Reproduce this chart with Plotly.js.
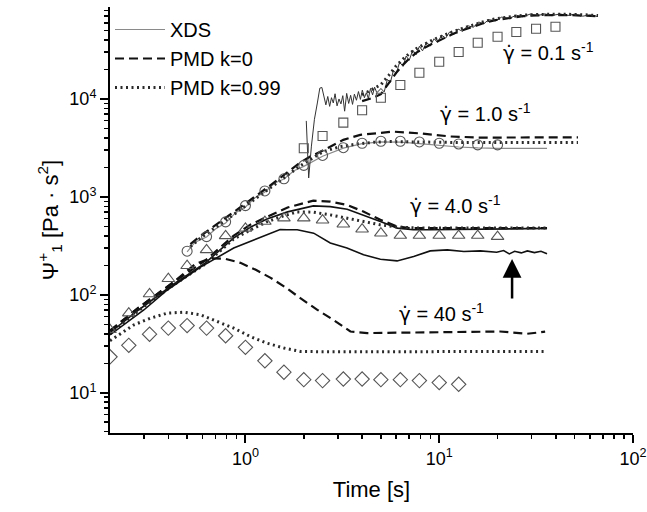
<!DOCTYPE html>
<html><head><meta charset="utf-8">
<script src="https://cdn.plot.ly/plotly-3.0.1.min.js"></script>
<style>html,body{margin:0;padding:0;background:#fff}#chart{width:647px;height:512px}</style>
</head><body><div id="chart"></div>
<script>
// ---- experimental symbols ----
const tSq = [2.0, 2.5, 3.2, 4.0, 5.0, 6.3, 7.9, 10, 12.6, 15.8, 20, 25, 31.6, 39.8];
const vSq = [3140, 4190, 5730, 7670, 10300, 13900, 18500, 24000, 30200, 37500, 43200, 48300, 52100, 54700];
const tCir = [0.5, 0.63, 0.79, 1.0, 1.26, 1.58, 2.0, 2.5, 3.2, 4.0, 5.0, 6.3, 7.9, 10, 12.6, 15.8, 20];
const vCir = [279, 393, 556, 815, 1150, 1530, 2100, 2650, 3180, 3530, 3700, 3700, 3640, 3530, 3470, 3400, 3400];
const tTri = [0.2, 0.25, 0.32, 0.4, 0.5, 0.63, 0.79, 1.0, 1.26, 1.58, 2.0, 2.5, 3.2, 4.0, 5.0, 6.3, 7.9, 10, 12.6, 15.8, 20];
const vTri = [44, 65, 102, 146, 198, 288, 400, 477, 560, 607, 607, 578, 526, 468, 426, 403, 403, 403, 403, 403, 393];
const tDia = [0.2, 0.25, 0.32, 0.4, 0.5, 0.63, 0.79, 1.0, 1.26, 1.58, 2.0, 2.5, 3.2, 4.0, 5.0, 6.3, 7.9, 10, 12.6];
const vDia = [23.3, 30.5, 39.6, 45.7, 48.5, 45.7, 38.2, 29.1, 21.2, 16.2, 13.6, 13.3, 13.8, 13.8, 13.6, 13.6, 13.3, 12.7, 12.2];

// ---- 0.1 s^-1 ----
const tX01 = [2.06, 2.12, 2.19, 2.27, 2.35, 2.42, 2.48, 2.54, 2.60, 2.66, 2.72, 2.78, 2.84, 2.90, 2.97, 3.04, 3.11, 3.18, 3.25, 3.33, 3.41, 3.49, 3.57, 3.65, 3.74, 3.83, 3.92, 4.01, 4.11, 4.21, 4.31, 4.42, 4.53, 4.64, 4.76, 4.88, 5.0, 5.2, 5.4, 5.6, 5.8, 6.0, 6.25, 6.5, 6.75, 7.0, 7.3, 7.6, 7.9, 8.2, 8.6, 9.0, 9.4, 9.8, 10.3, 10.8, 11.3, 11.9, 12.5, 13.2, 14, 15, 16, 17, 18, 19.5, 21, 23, 25, 27, 29.5, 32, 35, 38, 42, 46, 50, 55, 60, 66];
const vX01 = [5970, 1560, 3300, 6200, 9100, 12900, 13100, 10400, 8700, 10600, 8400, 10300, 9100, 11300, 8500, 10000, 8900, 10800, 7500, 11400, 9000, 10900, 8800, 11200, 9700, 11900, 9900, 12300, 10300, 11600, 10100, 12800, 11000, 13200, 11600, 12100, 12800, 11800, 15800, 14800, 19500, 18200, 23800, 21500, 27400, 24800, 31500, 28300, 34500, 31000, 37800, 34800, 41200, 37900, 44800, 41800, 48200, 45300, 51800, 49000, 56000, 54000, 61000, 58600, 64600, 62800, 68500, 66500, 71600, 69000, 73600, 70800, 74000, 71000, 73800, 71200, 73400, 70000, 72200, 69300];
const tP01 = [4.0, 4.5, 5.0, 5.5, 6.0, 6.5, 7.0, 7.6, 8.2, 9.0, 9.8, 10.8, 11.9, 13.2, 15, 17, 19.5, 23, 27, 32, 38, 46, 55, 66];
const vD01 = [9500, 10200, 11200, 14500, 18500, 22300, 25800, 29500, 32500, 35800, 39000, 43000, 46500, 50300, 55200, 59700, 63900, 67500, 70000, 71500, 71800, 71800, 71000, 70000];
const vO01 = [11000, 12500, 14000, 17500, 21800, 25500, 29000, 32500, 35500, 39000, 42000, 45800, 49000, 52600, 57300, 61600, 65800, 69300, 71600, 73000, 73300, 73200, 72500, 71200];

// ---- 1.0 s^-1 ----
const tD1 = [0.52, 0.586, 0.87, 1.30, 1.92, 2.16, 2.65, 3.20, 3.91, 4.97, 5.79, 7.98, 11.4, 16.3, 26.2, 52.0];
const vD1 = [330, 400, 700, 1250, 2250, 2580, 3140, 3820, 4300, 4530, 4640, 4450, 4140, 4030, 4030, 4060];
const tO1 = [0.52, 0.586, 0.87, 1.30, 1.92, 2.52, 3.09, 3.78, 4.57, 5.59, 11.4, 52.0];
const vO1 = [310, 380, 660, 1180, 2080, 2900, 3260, 3470, 3610, 3670, 3600, 3600];
const tX1 = [0.5, 0.55, 0.63, 0.70, 0.79, 0.89, 1.0, 1.12, 1.26, 1.41, 1.58, 1.78, 2.0, 2.5, 3.2, 4.0, 5.0, 6.3, 7.9, 10, 12.6, 15.8, 20, 36];
const vX1 = [275, 345, 390, 470, 540, 690, 790, 980, 1120, 1380, 1520, 1850, 2050, 2600, 3150, 3500, 3640, 3620, 3500, 3350, 3230, 3160, 3130, 3130];

// ---- 4.0 s^-1 ----
const tD4 = [0.2, 0.281, 0.42, 0.622, 0.867, 1.06, 1.30, 1.65, 2.24, 2.74, 3.35, 4.06, 4.97, 6.08, 7.09, 11.4, 20, 36];
const vD4 = [43, 74, 132, 225, 400, 520, 629, 780, 916, 895, 828, 708, 583, 498, 480, 480, 482, 480];
const tS4 = [0.2, 0.281, 0.42, 0.622, 0.867, 1.06, 1.30, 1.65, 2.24, 2.74, 3.35, 4.06, 4.97, 6.08, 7.34, 8.99, 20, 36];
const vS4 = [41, 70, 126, 212, 380, 490, 597, 703, 809, 796, 748, 655, 560, 480, 461, 461, 470, 477];
const tO4 = [0.2, 0.281, 0.42, 0.622, 0.867, 1.06, 1.30, 1.57, 1.85, 2.24, 2.74, 3.35, 4.06, 4.97, 6.08, 7.98, 36];
const vO4 = [40, 69, 124, 207, 370, 460, 560, 639, 703, 698, 655, 607, 560, 518, 491, 480, 480];

// ---- 40 s^-1 ----
const tS40 = [0.2, 0.299, 0.395, 0.586, 0.87, 1.29, 1.51, 1.64, 1.85, 2.25, 2.74, 3.34, 4.07, 4.97, 6.06, 7.38, 8.99, 11.0, 13.4, 16.3, 19.8, 21.5, 23, 24.5, 26.5, 28.5, 31, 33.5, 36];
const vS40 = [39, 70, 112, 192, 300, 409, 465, 461, 461, 426, 339, 300, 256, 231, 222, 246, 281, 288, 277, 281, 272, 283, 262, 278, 268, 281, 270, 278, 263];
const tD40 = [0.2, 0.281, 0.42, 0.552, 0.66, 0.789, 0.942, 1.13, 1.35, 1.61, 1.92, 2.35, 2.84, 3.48, 4.25, 6.29, 13.9, 20.6, 28.4, 35.2];
const vD40 = [43, 74, 132, 207, 236, 233, 212, 180, 149, 119, 92.5, 70.3, 55.6, 42.2, 40.7, 41.2, 42.4, 42.2, 40.0, 42];
const tO40 = [0.2, 0.266, 0.324, 0.395, 0.481, 0.586, 0.715, 0.87, 1.06, 1.29, 1.58, 1.92, 2.74, 5.0, 10, 20, 36];
const vO40 = [34, 49.4, 57.8, 65.0, 66.5, 62.5, 53.4, 45.7, 37.5, 32.1, 28.6, 26.4, 26.2, 26.4, 26.3, 26.4, 26.4];

// ---- axis ticks and labels ----
const xTicks = [1, 10, 100];
const xTickText = ['10<sup>0</sup>', '10<sup>1</sup>', '10<sup>2</sup>'];
const xMinor = [0.3,0.4,0.5,0.6,0.7,0.8,0.9,2,3,4,5,6,7,8,9,20,30,40,50,60,70,80,90];
const yTicks = [10, 100, 1000, 10000];
const yTickText = ['10<sup>1</sup>', '10<sup>2</sup>', '10<sup>3</sup>', '10<sup>4</sup>'];
const yMinor = [4,5,6,7,8,9,20,30,40,50,60,70,80,90,200,300,400,500,600,700,800,900,2000,3000,4000,5000,6000,7000,8000,9000,20000,30000,40000,50000,60000,70000,80000];
const GD = '<span style="font-family:DejaVu Sans">γ̇</span>';
const rateLabels = [GD + ' = 0.1 s<sup>-1</sup>', GD + ' = 1.0 s<sup>-1</sup>', GD + ' = 4.0 s<sup>-1</sup>', GD + ' = 40 s<sup>-1</sup>'];

const F = 'Arial, "Liberation Sans", sans-serif';
const greyLine = {color:'#8a8a8a', width:1.2};
const darkXds = {color:'#333', width:1};
const solidBlk = {color:'#111', width:1.6};
const dashL = {color:'#111', width:2.2, dash:'9px,5px'};
const dotL = {color:'#2a2a2a', width:3, dash:'2px,3.5px'};

function ln(x, y, line, name, show) {
  return {type:'scatter', mode:'lines', x:x, y:y, line:line, name:name||'', showlegend:!!show, hoverinfo:'skip'};
}
function mk(x, y, symbol, size) {
  return {type:'scatter', mode:'markers', x:x, y:y, showlegend:false, hoverinfo:'skip',
    marker:{symbol:symbol, size:size, color:'#555', line:{color:'#555', width:1.1}}};
}

const traces = [
  ln(tX1, vX1, greyLine, 'XDS', true),
  ln(tD1, vD1, dashL, 'PMD k=0', true),
  ln(tO1, vO1, dotL, 'PMD k=0.99', true),
  ln(tX01, vX01, darkXds),
  ln(tP01, vD01, dashL),
  ln(tP01, vO01, dotL),
  ln(tD4, vD4, dashL),
  ln(tS4, vS4, solidBlk),
  ln(tO4, vO4, dotL),
  ln(tS40, vS40, solidBlk),
  ln(tD40, vD40, dashL),
  ln(tO40, vO40, dotL),
  mk(tSq, vSq, 'square-open', 9),
  mk(tCir, vCir, 'circle-open', 10),
  mk(tTri, vTri, 'triangle-up-open', 11),
  mk(tDia, vDia, 'diamond-open', 11)
];

const axisCommon = {
  type:'log', showline:true, linewidth:2, linecolor:'#000', mirror:false,
  showgrid:false, zeroline:false, ticks:'outside', ticklen:8, tickwidth:2, tickcolor:'#000',
  tickmode:'array', tickfont:{family:F, size:18, color:'#000'}
};

const layout = {
  width:647, height:512,
  margin:{l:110, r:14, t:7, b:79},
  paper_bgcolor:'#fff', plot_bgcolor:'#fff',
  font:{family:F, color:'#000'},
  showlegend:true,
  legend:{x:0, y:0.993, xanchor:'left', yanchor:'top', bgcolor:'rgba(0,0,0,0)', font:{family:F, size:20, color:'#000'}, itemwidth:50, tracegroupgap:0},
  xaxis:Object.assign({}, axisCommon, {
    range:[Math.log10(0.2), 2], tickvals:xTicks, ticktext:xTickText,
    minor:{tickmode:'array', tickvals:xMinor, ticks:'outside', ticklen:4, tickwidth:1.5, tickcolor:'#000', showgrid:false},
    title:{text:'Time [s]', font:{family:F, size:22, color:'#000'}, standoff:14}
  }),
  yaxis:Object.assign({}, axisCommon, {
    range:[0.589, 4.939], tickvals:yTicks, ticktext:yTickText,
    minor:{tickmode:'array', tickvals:yMinor, ticks:'outside', ticklen:4, tickwidth:1.5, tickcolor:'#000', showgrid:false},
    title:{text:'Ψ<sup>+</sup><sub>1</sub> [Pa · s<sup>2</sup>]', font:{family:F, size:22, color:'#000'}, standoff:5}
  }),
  annotations:[
    {xref:'x', yref:'y', x:1.562, y:4.48, text:rateLabels[0], showarrow:false, font:{family:F, size:20, color:'#000'}},
    {xref:'x', yref:'y', x:1.237, y:3.857, text:rateLabels[1], showarrow:false, font:{family:F, size:20, color:'#000'}},
    {xref:'x', yref:'y', x:1.082, y:2.918, text:rateLabels[2], showarrow:false, font:{family:F, size:20, color:'#000'}},
    {xref:'x', yref:'y', x:1.010, y:1.816, text:rateLabels[3], showarrow:false, font:{family:F, size:20, color:'#000'}},
    {xref:'x', yref:'y', x:1.376, y:2.367, text:'', showarrow:true, ax:0, ay:41, arrowhead:2, arrowsize:1.5, arrowwidth:2.5, arrowcolor:'#000'}
  ]
};

Plotly.newPlot('chart', traces, layout, {staticPlot:true, displayModeBar:false});
</script>
</body></html>
